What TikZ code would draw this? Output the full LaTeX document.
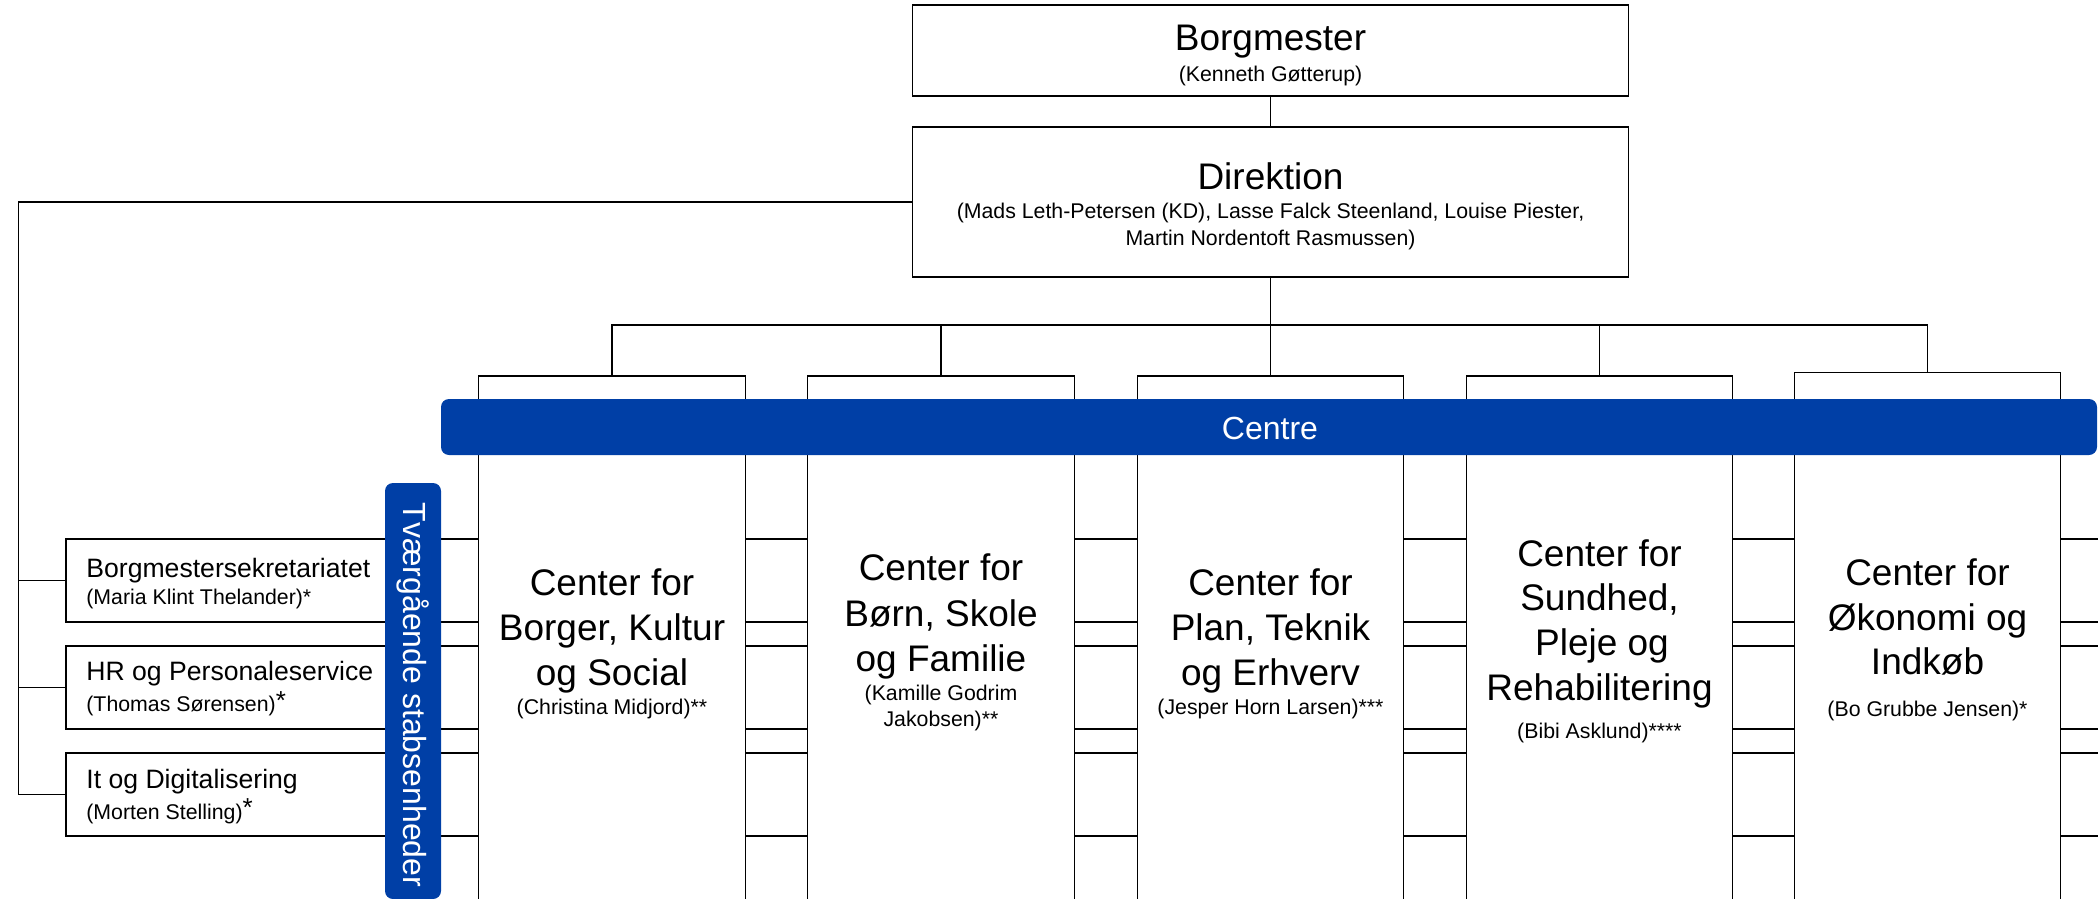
\documentclass[tikz,border=0pt]{standalone}
\usepackage{fontspec}
\setmainfont{Liberation Sans}
\definecolor{kblue}{RGB}{0,63,166}
\newcommand\fTitle{\fontsize{18.5}{22}\selectfont}
\newcommand\fSub{\fontsize{10.65}{13}\selectfont}
\newcommand\fStaff{\fontsize{13.3}{16}\selectfont}
\newcommand\fBar{\fontsize{16}{19}\selectfont}
\newcommand\bigast{\raisebox{1.2pt}{\fontsize{13}{13}\selectfont *}}
\begin{document}
\begin{tikzpicture}[x=0.5pt,y=-0.5pt,
  box/.style={draw=black, line width=0.65pt, fill=white, inner sep=0, rectangle},
  conn/.style={draw=black, line width=0.6pt},
  bluebar/.style={fill=kblue, rounded corners=4pt, inner sep=0},
  bartext/.style={text=white, font=\fBar, inner sep=0},
  tl/.style={inner sep=0, anchor=base, font=\fTitle},
  sl/.style={inner sep=0, anchor=base, font=\fSub},
  stl/.style={inner sep=0, anchor=base west, font=\fStaff},
  ssl/.style={inner sep=0, anchor=base west, font=\fSub},
  cbox/.style={box, minimum width=133.25pt, minimum height=272pt},
  sbox/.style={box, minimum width=1027pt, minimum height=41.5pt},
  topbox/.style={box, minimum width=358pt}]
\useasboundingbox (0,0) rectangle (2098,899);
\clip (0,0) rectangle (2098,899);

% staff bands
\node[sbox] (s1) at (1093,580.5) {};
\node[sbox] (s2) at (1093,687.5) {};
\node[sbox] (s3) at (1093,794.5) {};

% vertical bar
\node[bluebar, minimum width=28pt, minimum height=208pt] (vbar) at (413,691) {};
\node[bartext, rotate=-90] (vtxt) at (413,695) {Tværgående stabsenheder};

% center boxes
\node[cbox] (c1) at (612,648) {};
\node[cbox] (c2) at (941,648) {};
\node[cbox] (c3) at (1270.5,648) {};
\node[cbox] (c4) at (1599.5,648) {};
\node[cbox, minimum height=274pt] (c5) at (1927.5,646.5) {};

% Centre bar
\node[bluebar, minimum width=828pt, minimum height=28pt] (cbar) at (1269,427) {};
\node[bartext] (ctxt) at (1270,428) {Centre};

% top boxes
\node[topbox, minimum height=45.5pt] (borg) at (1270.5,50.5) {};
\node[topbox, minimum height=75pt] (dir) at (1270.5,202) {};

% connectors
\coordinate (bus) at (0,325);
\coordinate (lft) at (18.5,0);
\draw[conn] (borg.south) -- (dir.north);
\draw[conn] (dir.south) -- (c3.north);
\draw[conn] (c1.north) |- (dir.south |- bus) -| (c5.north);
\draw[conn] (c2.north) -- (c2.north |- bus);
\draw[conn] (c4.north) -- (c4.north |- bus);
\draw[conn] (dir.west) -| (lft |- s3.west) -- (s3.west);
\draw[conn] (lft |- s1.west) -- (s1.west);
\draw[conn] (lft |- s2.west) -- (s2.west);

% top texts
\node[tl] (borgA) at (1270.5,51) {Borgmester};
\node[sl] (borgB) at (1270.5,82) {(Kenneth Gøtterup)};
\node[tl] (dirA) at (1270.5,189) {Direktion};
\node[sl] (dirB) at (1270.5,218) {(Mads Leth-Petersen (KD), Lasse Falck Steenland, Louise Piester,};
\node[sl] (dirC) at (1270.5,245) {Martin Nordentoft Rasmussen)};

% staff texts
\node[stl] (s1a) at (86,577) {Borgmestersekretariatet};
\node[ssl] (s1b) at (86,604) {(Maria Klint Thelander)*};
\node[stl] (s2a) at (86,680.5) {HR og Personaleservice};
\node[ssl] (s2b) at (86,711.5) {(Thomas Sørensen)\bigast};
\node[stl] (s3a) at (86,788) {It og Digitalisering};
\node[ssl] (s3b) at (86,819) {(Morten Stelling)\bigast};

% center texts
\node[tl] (c1a) at (612,595.5) {Center for};
\node[tl] (c1b) at (612,640) {Borger, Kultur};
\node[tl] (c1c) at (612,685) {og Social};
\node[sl] (c1d) at (612,714) {(Christina Midjord)**};

\node[tl] (c2a) at (941,580) {Center for};
\node[tl] (c2b) at (941,626) {Børn, Skole};
\node[tl] (c2c) at (941,671) {og Familie};
\node[sl] (c2d) at (941,700) {(Kamille Godrim};
\node[sl] (c2e) at (941,726) {Jakobsen)**};

\node[tl] (c3a) at (1270.5,595.5) {Center for};
\node[tl] (c3b) at (1270.5,640) {Plan, Teknik};
\node[tl] (c3c) at (1270.5,685) {og Erhverv};
\node[sl] (c3d) at (1270.5,714) {(Jesper Horn Larsen)***};

\node[tl] (c4a) at (1599.5,566) {Center for};
\node[tl] (c4b) at (1599.5,610) {Sundhed,};
\node[tl] (c4c) at (1602,655) {Pleje og};
\node[tl] (c4d) at (1599.5,700) {Rehabilitering};
\node[sl] (c4e) at (1599.5,738) {(Bibi Asklund)****};

\node[tl] (c5a) at (1927.5,585) {Center for};
\node[tl] (c5b) at (1927.5,630) {Økonomi og};
\node[tl] (c5c) at (1927.5,674.5) {Indkøb};
\node[sl] (c5d) at (1927.5,716) {(Bo Grubbe Jensen)*};
\end{tikzpicture}
\end{document}
